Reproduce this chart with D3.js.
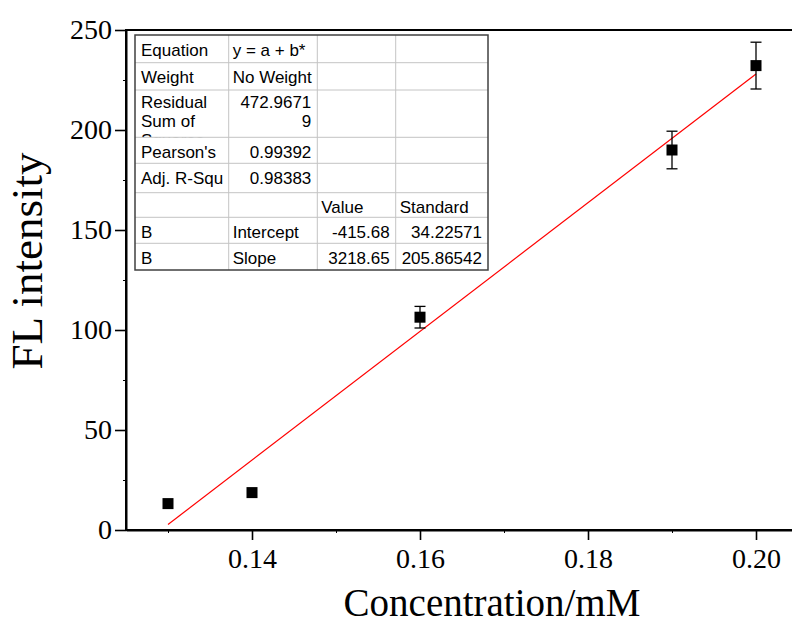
<!DOCTYPE html>
<html>
<head>
<meta charset="utf-8">
<script src="https://cdn.jsdelivr.net/npm/d3@7"></script>
<style>
  body { margin: 0; background: #fff; }
  svg { display: block; }
</style>
</head>
<body>
<svg id="chart" width="792" height="622"></svg>
<script>
// data
var conc = [0.13, 0.14, 0.16, 0.19, 0.20];
var intensity = [13.2, 18.7, 106.4, 190.0, 232.2];
var errors = [0, 0, 5.4, 9.4, 11.7];
var fitIntercept = -415.68;
var fitSlope = 3218.65;
var xTicks = [0.14, 0.16, 0.18, 0.20];
var xMinor = [0.13, 0.15, 0.17, 0.19];
var yTicks = [0, 50, 100, 150, 200, 250];
var yMinor = [25, 75, 125, 175, 225];

// fit report table (Origin style)
var tableRows = [
  ['Equation', 'y = a + b*', '', ''],
  ['Weight', 'No Weight', '', ''],
  ['Residual\nSum of\nSquares', '472.9671\n9', '', ''],
  ["Pearson's", '0.99392', '', ''],
  ['Adj. R-Squ', '0.98383', '', ''],
  ['', '', 'Value', 'Standard'],
  ['B', 'Intercept', '-415.68', '34.22571'],
  ['B', 'Slope', '3218.65', '205.86542']
];

var margin = {top: 30, left: 126};
var width = 672;
var height = 500;
var serif = '"Liberation Serif", "Times New Roman", serif';

var svg = d3.select('#chart');
var g = svg.append('g')
  .attr('transform', 'translate(' + margin.left + ',' + margin.top + ')');

var xScale = d3.scaleLinear().domain([0.125, 0.205]).range([0, width]);
var yScale = d3.scaleLinear().domain([0, 250]).range([height, 0]);

// frame (top line; right side runs off the canvas)
g.append('rect')
  .attr('x', 0).attr('y', 0)
  .attr('width', width).attr('height', height)
  .attr('fill', 'none')
  .attr('stroke', '#000')
  .attr('stroke-width', 2);

// minor ticks
g.append('g')
  .attr('transform', 'translate(0,' + height + ')')
  .call(d3.axisBottom(xScale).tickValues(xMinor).tickSize(3).tickFormat(''))
  .call(function (a) { a.select('.domain').remove(); });
g.append('g')
  .call(d3.axisLeft(yScale).tickValues(yMinor).tickSize(3).tickFormat(''))
  .call(function (a) { a.select('.domain').remove(); });

var xAxis = d3.axisBottom(xScale)
  .tickValues(xTicks)
  .tickFormat(d3.format('.2f'))
  .tickSize(10)
  .tickSizeOuter(0)
  .tickPadding(8);
var yAxis = d3.axisLeft(yScale)
  .tickValues(yTicks)
  .tickSize(11)
  .tickSizeOuter(0)
  .tickPadding(3);

var gx = g.append('g')
  .attr('transform', 'translate(0,' + height + ')')
  .call(xAxis);
var gy = g.append('g')
  .call(yAxis);

[gx, gy].forEach(function (a) {
  a.select('.domain').attr('stroke-width', 2);
  a.selectAll('.tick line').attr('stroke-width', 1.6);
  a.selectAll('.tick text')
    .attr('font-family', serif)
    .attr('font-size', 28)
    .attr('fill', '#000');
});

// axis titles
svg.append('text')
  .attr('x', 492)
  .attr('y', 616)
  .attr('text-anchor', 'middle')
  .attr('font-family', serif)
  .attr('font-size', 39)
  .text('Concentration/mM');

svg.append('text')
  .attr('transform', 'translate(42,261) rotate(-90)')
  .attr('text-anchor', 'middle')
  .attr('font-family', serif)
  .attr('font-size', 45)
  .text('FL intensity');

// linear fit line
var fitX = d3.extent(conc);
g.append('line')
  .attr('x1', xScale(fitX[0]))
  .attr('y1', yScale(fitIntercept + fitSlope * fitX[0]))
  .attr('x2', xScale(fitX[1]))
  .attr('y2', yScale(fitIntercept + fitSlope * fitX[1]))
  .attr('stroke', '#ff0000')
  .attr('stroke-width', 1.2);

// error bars
var points = conc.map(function (c, i) {
  return {x: c, y: intensity[i], e: errors[i]};
});
var bars = g.selectAll('.err')
  .data(points.filter(function (d) { return d.e > 0; }))
  .enter()
  .append('g')
  .attr('class', 'err')
  .attr('stroke', '#000')
  .attr('stroke-width', 1.3);
bars.append('line')
  .attr('x1', function (d) { return xScale(d.x); })
  .attr('x2', function (d) { return xScale(d.x); })
  .attr('y1', function (d) { return yScale(d.y + d.e); })
  .attr('y2', function (d) { return yScale(d.y - d.e); });
bars.selectAll('.cap')
  .data(function (d) { return [[d.x, d.y + d.e], [d.x, d.y - d.e]]; })
  .enter()
  .append('line')
  .attr('x1', function (d) { return xScale(d[0]) - 5.5; })
  .attr('x2', function (d) { return xScale(d[0]) + 5.5; })
  .attr('y1', function (d) { return yScale(d[1]); })
  .attr('y2', function (d) { return yScale(d[1]); });

// square markers
g.selectAll('.pt')
  .data(points)
  .enter()
  .append('rect')
  .attr('class', 'pt')
  .attr('x', function (d) { return xScale(d.x) - 5.5; })
  .attr('y', function (d) { return yScale(d.y) - 5.5; })
  .attr('width', 11)
  .attr('height', 11)
  .attr('fill', '#000');

// table
var colEdges = [135, 228.7, 317.3, 395.7, 488];
var rowEdges = [35, 62.7, 90, 137.3, 163.3, 192.7, 217.3, 243.3, 270];
var table = svg.append('g')
  .attr('font-family', '"Liberation Sans", Arial, sans-serif')
  .attr('font-size', 17)
  .attr('fill', '#000');

table.append('rect')
  .attr('x', colEdges[0]).attr('y', rowEdges[0])
  .attr('width', colEdges[4] - colEdges[0])
  .attr('height', rowEdges[8] - rowEdges[0])
  .attr('fill', '#fff');

var defs = svg.append('defs');
tableRows.forEach(function (row, r) {
  row.forEach(function (cell, c) {
    if (!cell) return;
    var x0 = colEdges[c], x1 = colEdges[c + 1];
    var y0 = rowEdges[r], y1 = rowEdges[r + 1];
    var id = 'cell-' + r + '-' + c;
    defs.append('clipPath').attr('id', id)
      .append('rect')
      .attr('x', x0).attr('y', y0)
      .attr('width', x1 - x0).attr('height', y1 - y0);
    var lines = cell.split('\n');
    var numeric = /^-?[\d.]+$/.test(lines[0]);
    var multi = lines.length > 1;
    table.append('g')
      .attr('clip-path', 'url(#' + id + ')')
      .selectAll('text')
      .data(lines)
      .enter()
      .append('text')
      .attr('x', numeric ? x1 - 6 : x0 + (c === 0 ? 6 : 4))
      .attr('y', function (d, i) { return multi ? y0 + 17.5 + i * 19.4 : y0 + 20.5; })
      .attr('text-anchor', numeric ? 'end' : 'start')
      .text(function (d) { return d; });
  });
});

// inner grid
table.selectAll('.hl')
  .data(rowEdges.slice(1, -1))
  .enter()
  .append('line')
  .attr('x1', colEdges[0]).attr('x2', colEdges[4])
  .attr('y1', function (d) { return d; })
  .attr('y2', function (d) { return d; })
  .attr('stroke', '#c4c4c4');
table.selectAll('.vl')
  .data(colEdges.slice(1, -1))
  .enter()
  .append('line')
  .attr('y1', rowEdges[0]).attr('y2', rowEdges[8])
  .attr('x1', function (d) { return d; })
  .attr('x2', function (d) { return d; })
  .attr('stroke', '#c4c4c4');

table.append('rect')
  .attr('x', colEdges[0]).attr('y', rowEdges[0])
  .attr('width', colEdges[4] - colEdges[0])
  .attr('height', rowEdges[8] - rowEdges[0])
  .attr('fill', 'none')
  .attr('stroke', '#404040')
  .attr('stroke-width', 1.5);
</script>
</body>
</html>
